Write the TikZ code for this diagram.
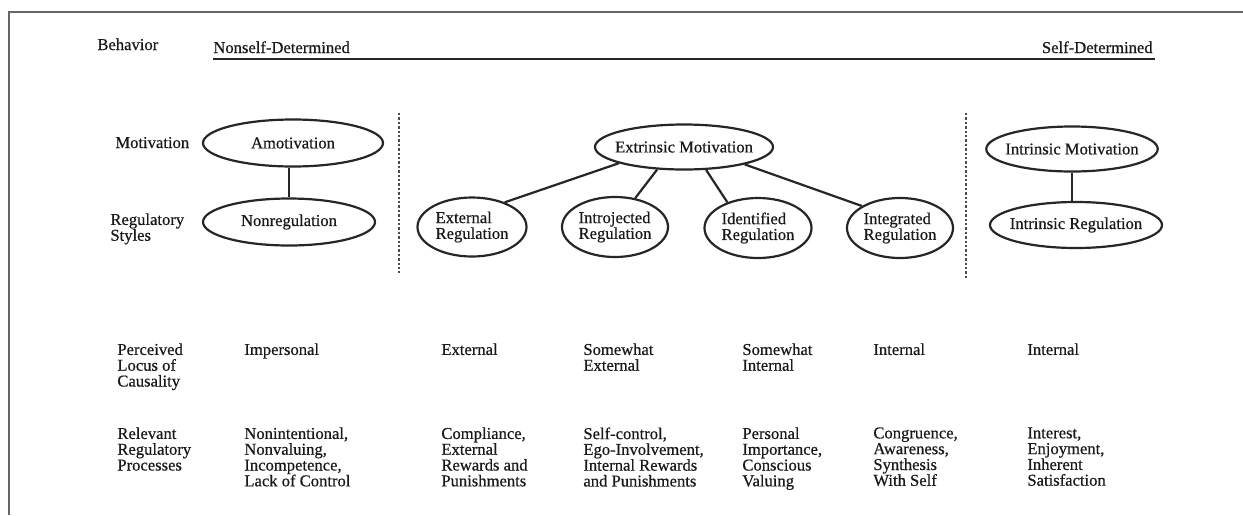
\documentclass[tikz,border=0pt]{standalone}
\usepackage{fontspec}
\setmainfont[FakeBold=0.5]{Liberation Serif}
\usetikzlibrary{shapes.geometric}
\begin{document}
\begin{tikzpicture}[x=0.5pt,y=-0.5pt,
  every node/.style={font=\fontsize{8.3}{7.9}\selectfont, inner sep=0pt, text=black!90},
  lbl/.style={anchor=north west, align=left},
  ell/.style={draw=black!85, ellipse, line width=1.1pt, align=left, inner xsep=-3pt, inner ysep=0pt},
  conn/.style={line width=1.1pt, black!85},
  sepline/.style={line width=1.3pt, dash pattern=on 1.2pt off 1pt, black!70},
]
\useasboundingbox (0,0) rectangle (1243,515);
\fill[white] (0,0) rectangle (1243,515);
% frame (top and left edges)
\coordinate (fTL) at (9,12); \coordinate (fTR) at (1243,12); \coordinate (fBL) at (9,515);
\draw[line width=1pt, black!60] (fTR) -- (fTL) -- (fBL);

% header
\node[anchor=base west] (beh) at (97,50) {Behavior};
\node[anchor=base west] (nsd) at (213,53) {Nonself-Determined};
\node[anchor=base east] (sd) at (1153,53) {Self-Determined};
\coordinate (hl1) at (213,59); \coordinate (hl2) at (1155,59);
\draw[line width=1pt, black!85] (hl1) -- (hl2);

% row labels
\node[anchor=base west] (lmot) at (115,148) {Motivation};
\node[lbl] (lreg) at (110,213) {Regulatory\\Styles};
\node[lbl] (lloc) at (117,343) {Perceived\\Locus of\\Causality};
\node[lbl] (lproc) at (117,427) {Relevant\\Regulatory\\Processes};

% separators
\coordinate (d1t) at (399,113); \coordinate (d1b) at (399,273);
\coordinate (d2t) at (966,113); \coordinate (d2b) at (966,278);
\draw[sepline] (d1t) -- (d1b);
\draw[sepline] (d2t) -- (d2b);

% ellipses
\node[ell, minimum width=90pt, minimum height=23.5pt] (amot) at (293,143) {Amotivation};
\node[ell, minimum width=86pt, minimum height=23.5pt] (nonreg) at (289,222) {Nonregulation};
\node[ell, minimum width=85.5pt, minimum height=22.5pt] (em) at (684,147) {Extrinsic Motivation};
\node[ell, minimum width=54.5pt, minimum height=29.5pt] (er) at (472,227) {External\\Regulation};
\node[ell, minimum width=53pt, minimum height=30pt] (ij) at (615,227) {Introjected\\Regulation};
\node[ell, minimum width=53.5pt, minimum height=30pt] (id) at (758,228) {Identified\\Regulation};
\node[ell, minimum width=53pt, minimum height=30pt] (ig) at (900,228) {Integrated\\Regulation};
\node[ell, minimum width=85.5pt, minimum height=22.5pt] (im) at (1072,149) {Intrinsic Motivation};
\node[ell, minimum width=86pt, minimum height=23pt] (ir) at (1076,225) {Intrinsic Regulation};

% connectors
\draw[conn] (amot.south -| nonreg.north) -- (nonreg.north);
\draw[conn] (im.south) -- (im.south |- ir.north);
\draw[conn] (em.194) -- (er.37);
\draw[conn] (em.220) -- (ij.55);
\draw[conn] (em.314) -- (id.140);
\draw[conn] (em.344) -- (ig.150);

% locus row
\node[lbl] (l1) at (244,343) {Impersonal};
\node[lbl] (l2) at (441,343) {External};
\node[lbl] (l3) at (583,343) {Somewhat\\External};
\node[lbl] (l4) at (742,343) {Somewhat\\Internal};
\node[lbl] (l5) at (873,343) {Internal};
\node[lbl] (l6) at (1027,343) {Internal};

% processes row
\node[lbl] (p1) at (244,427) {Nonintentional,\\Nonvaluing,\\Incompetence,\\Lack of Control};
\node[lbl] (p2) at (441,427) {Compliance,\\External\\Rewards and\\Punishments};
\node[lbl] (p3) at (583,427) {Self-control,\\Ego-Involvement,\\Internal Rewards\\and Punishments};
\node[lbl] (p4) at (742,427) {Personal\\Importance,\\Conscious\\Valuing};
\node[lbl] (p5) at (873,427) {Congruence,\\Awareness,\\Synthesis\\With Self};
\node[lbl] (p6) at (1027,427) {Interest,\\Enjoyment,\\Inherent\\Satisfaction};
\end{tikzpicture}
\end{document}
